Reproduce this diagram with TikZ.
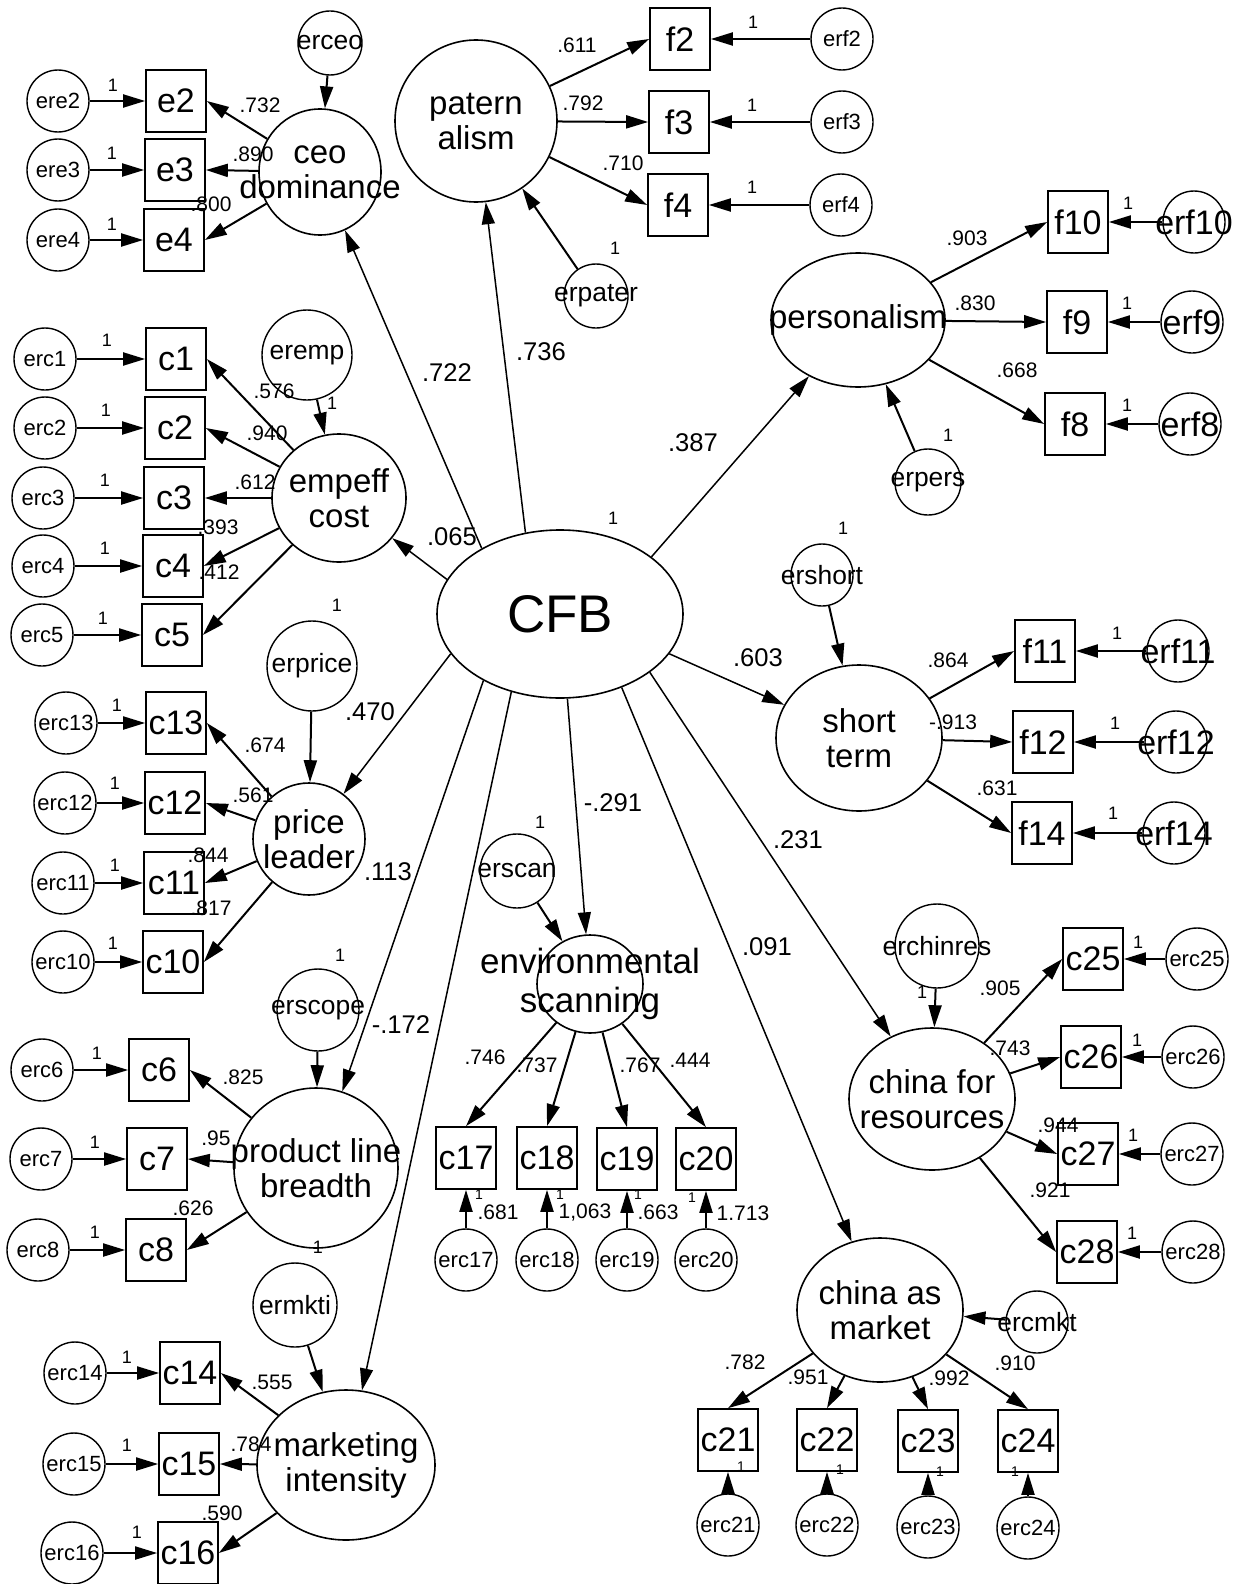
\documentclass[tikz,border=0pt]{standalone}
\usepackage{fontspec}
\setmainfont{Liberation Sans}
\usetikzlibrary{shapes.geometric,arrows.meta}
\begin{document}
\begin{tikzpicture}[x=0.5pt,y=-0.5pt,
  ob/.style={draw,line width=0.85pt,rectangle,minimum width=30pt,minimum height=31pt,inner sep=0pt,font=\fontsize{17}{17}\selectfont},
  es/.style={draw,circle,line width=0.7pt,inner sep=0pt,minimum size=31pt,label={[font=\fontsize{11}{11}\selectfont,inner sep=0pt]center:#1}},
  el/.style={draw,circle,line width=0.7pt,inner sep=0pt,minimum size=31pt,label={[font=\fontsize{17}{17}\selectfont,inner sep=0pt]center:#1}},
  em/.style 2 args={draw,circle,line width=0.7pt,inner sep=0pt,minimum size=#2,label={[font=\fontsize{13.2}{13.2}\selectfont,inner sep=0pt]center:#1}},
  lt/.style={align=center,font=\fontsize{16.5}{17.5}\selectfont,inner sep=0pt},
  lat/.style n args={3}{draw,ellipse,line width=0.8pt,inner sep=0pt,minimum width=#2,minimum height=#3,label={[lt]center:#1}},
  ld/.style={-{Triangle[length=11pt,width=6.5pt]},line width=1pt},
  st/.style={-{Triangle[length=11pt,width=6.5pt]},line width=0.75pt},
  num/.style={font=\fontsize{10.5}{10.5}\selectfont,inner sep=0pt},
  bnum/.style={font=\fontsize{12.8}{12.8}\selectfont,inner sep=0pt},
  one/.style={font=\fontsize{9}{9}\selectfont,inner sep=0pt},
  tiny1/.style={font=\fontsize{7}{7}\selectfont,inner sep=0pt},
]
\fill[white] (0,0) rectangle (1247,1584);
\useasboundingbox (0,0) rectangle (1247,1584);

% ---------- latent variables ----------
\node[draw,ellipse,line width=0.8pt,inner sep=0pt,minimum width=123pt,minimum height=84pt,
  label={[font=\fontsize{26.5}{26.5}\selectfont,inner sep=0pt]center:CFB}] (CFB) at (560,614) {};
\node[lat={ceo\\dominance}{61pt}{63pt}] (ceo) at (320,172) {};
\node[lat={patern\\alism}{81pt}{81pt}] (pat) at (476,121) {};
\node[lat={personalism}{87pt}{67pt}] (pers) at (858,320) {};
\node[lat={empeff\\cost}{67pt}{64pt}] (emp) at (339,498) {};
\node[lat={price\\leader}{56pt}{56pt}] (price) at (309,839) {};
\node[lat={product line\\breadth}{82pt}{80pt}] (prod) at (316,1168) {};
\node[lat={marketing\\intensity}{89pt}{75pt}] (mkt) at (346,1465) {};
\node[draw,ellipse,line width=0.8pt,inner sep=0pt,minimum width=53pt,minimum height=49pt,
  label={[lt,font=\fontsize{17.5}{19.5}\selectfont]center:environmental\\scanning}] (env) at (590,984) {};
\node[lat={short\\term}{83pt}{73pt}] (short) at (859,738) {};
\node[lat={china for\\resources}{83pt}{71pt}] (chres) at (932,1099) {};
\node[lat={china as\\market}{83pt}{72pt}] (chmkt) at (880,1310) {};

% ---------- structural errors ----------
\node[em={erceo}{32pt}] (erceo) at (330,43) {};
\node[em={erpater}{32pt}] (erpater) at (596,296) {};
\node[em={erpers}{33pt}] (erpers) at (928,482) {};
\node[em={eremp}{45pt}] (eremp) at (307,355) {};
\node[em={erprice}{45pt}] (erprice) at (312,666) {};
\node[em={erscope}{41pt}] (erscope) at (318,1010) {};
\node[em={ermkti}{42pt}] (ermkti) at (295,1305) {};
\node[em={erscan}{37pt}] (erscan) at (517,871) {};
\node[em={ershort}{31pt}] (ershort) at (822,575) {};
\node[em={erchinres}{42pt}] (erchinres) at (937,946) {};
\node[em={ercmkt}{31pt}] (ercmkt) at (1037,1322) {};

% ---------- indicators ----------
\node[ob] (e2) at (176,101) {e2};
\node[ob] (e3) at (175,170) {e3};
\node[ob] (e4) at (174,240) {e4};
\node[ob] (f2) at (680,39) {f2};
\node[ob] (f3) at (679,122) {f3};
\node[ob] (f4) at (678,205) {f4};
\node[ob] (f10) at (1078,222) {f10};
\node[ob] (f9) at (1077,322) {f9};
\node[ob] (f8) at (1075,424) {f8};
\node[ob] (c1) at (176,359) {c1};
\node[ob] (c2) at (175,428) {c2};
\node[ob] (c3) at (174,498) {c3};
\node[ob] (c4) at (173,566) {c4};
\node[ob] (c5) at (172,635) {c5};
\node[ob] (c13) at (176,723) {c13};
\node[ob] (c12) at (175,803) {c12};
\node[ob] (c11) at (174,883) {c11};
\node[ob] (c10) at (173,962) {c10};
\node[ob] (c6) at (159,1070) {c6};
\node[ob] (c7) at (157,1159) {c7};
\node[ob] (c8) at (156,1250) {c8};
\node[ob] (c14) at (190,1373) {c14};
\node[ob] (c15) at (189,1464) {c15};
\node[ob] (c16) at (188,1553) {c16};
\node[ob] (c17) at (466,1158) {c17};
\node[ob] (c18) at (547,1158) {c18};
\node[ob] (c19) at (627,1159) {c19};
\node[ob] (c20) at (706,1159) {c20};
\node[ob] (f11) at (1045,651) {f11};
\node[ob] (f12) at (1043,742) {f12};
\node[ob] (f14) at (1042,833) {f14};
\node[ob] (c25) at (1093,959) {c25};
\node[ob] (c26) at (1091,1057) {c26};
\node[ob] (c27) at (1088,1154) {c27};
\node[ob] (c28) at (1087,1252) {c28};
\node[ob] (c21) at (728,1440) {c21};
\node[ob] (c22) at (827,1440) {c22};
\node[ob] (c23) at (928,1441) {c23};
\node[ob] (c24) at (1028,1441) {c24};

% ---------- measurement errors ----------
\node[es=ere2] (ere2) at (58,101) {};
\node[es=ere3] (ere3) at (58,170) {};
\node[es=ere4] (ere4) at (58,240) {};
\node[es=erf2] (erf2) at (842,39) {};
\node[es=erf3] (erf3) at (842,122) {};
\node[es=erf4] (erf4) at (841,205) {};
\node[el=erf10] (erf10) at (1194,222) {};
\node[el=erf9] (erf9) at (1192,322) {};
\node[el=erf8] (erf8) at (1190,424) {};
\node[es=erc1] (erc1) at (45,359) {};
\node[es=erc2] (erc2) at (45,428) {};
\node[es=erc3] (erc3) at (43,498) {};
\node[es=erc4] (erc4) at (43,566) {};
\node[es=erc5] (erc5) at (42,635) {};
\node[es=erc13] (erc13) at (66,723) {};
\node[es=erc12] (erc12) at (65,803) {};
\node[es=erc11] (erc11) at (63,883) {};
\node[es=erc10] (erc10) at (63,962) {};
\node[es=erc6] (erc6) at (42,1070) {};
\node[es=erc7] (erc7) at (41,1159) {};
\node[es=erc8] (erc8) at (38,1250) {};
\node[es=erc14] (erc14) at (75,1373) {};
\node[es=erc15] (erc15) at (74,1464) {};
\node[es=erc16] (erc16) at (72,1553) {};
\node[es=erc17] (erc17) at (466,1260) {};
\node[es=erc18] (erc18) at (547,1260) {};
\node[es=erc19] (erc19) at (627,1260) {};
\node[es=erc20] (erc20) at (706,1260) {};
\node[el=erf11] (erf11) at (1178,651) {};
\node[el=erf12] (erf12) at (1176,742) {};
\node[el=erf14] (erf14) at (1174,833) {};
\node[es=erc25] (erc25) at (1197,959) {};
\node[es=erc26] (erc26) at (1193,1057) {};
\node[es=erc27] (erc27) at (1192,1154) {};
\node[es=erc28] (erc28) at (1193,1252) {};
\node[es=erc21] (erc21) at (728,1525) {};
\node[es=erc22] (erc22) at (827,1525) {};
\node[es=erc23] (erc23) at (928,1527) {};
\node[es=erc24] (erc24) at (1028,1528) {};

% ---------- structural paths from CFB ----------
\draw[st] (CFB.140.5) -- (ceo);
\draw[st] (CFB.113.8) -- (pat);
\draw[st] (CFB.32.5) -- (pers);
\draw[st] (CFB.163) -- (emp);
\draw[st] (CFB.200) -- (price);
\draw[st] (CFB.221.4) -- (prod);
\draw[st] (CFB.238.9) -- (mkt);
\draw[st] (CFB.275.5) -- (env);
\draw[st] (CFB.310.2) -- (chmkt);
\draw[st] (CFB.327.5) -- (chres);
\draw[st] (CFB.340) -- (short);

% ---------- disturbances ----------
\draw[ld] (erceo) -- (ceo);
\draw[ld] (erpater) -- (pat);
\draw[ld] (erpers) -- (pers);
\draw[ld] (eremp) -- (emp);
\draw[ld] (erprice) -- (price);
\draw[ld] (erscope) -- (prod);
\draw[ld] (ermkti) -- (mkt);
\draw[ld] (erscan) -- (env);
\draw[ld] (ershort) -- (short);
\draw[ld] (erchinres) -- (chres);
\draw[ld] (ercmkt) -- (chmkt);

% ---------- loadings ----------
\foreach \b in {e2,e3,e4} \draw[ld] (ceo) -- (\b.east);
\foreach \b in {f2,f3,f4} \draw[ld] (pat) -- (\b.west);
\foreach \b in {f10,f9,f8} \draw[ld] (pers) -- (\b.west);
\foreach \b in {c1,c2,c3,c4,c5} \draw[ld] (emp) -- (\b.east);
\foreach \b in {c13,c12,c11,c10} \draw[ld] (price) -- (\b.east);
\foreach \b in {c6,c7,c8} \draw[ld] (prod) -- (\b.east);
\foreach \b in {c14,c15,c16} \draw[ld] (mkt) -- (\b.east);
\foreach \b in {c17,c18,c19,c20} \draw[ld] (env) -- (\b.north);
\foreach \b in {f11,f12,f14} \draw[ld] (short) -- (\b.west);
\foreach \b in {c25,c26,c27,c28} \draw[ld] (chres) -- (\b.west);
\foreach \b in {c21,c22,c23,c24} \draw[ld] (chmkt) -- (\b.north);

% ---------- error arrows ----------
\foreach \a/\b in {ere2/e2,ere3/e3,ere4/e4,erf2/f2,erf3/f3,erf4/f4,erf10/f10,erf9/f9,erf8/f8,
  erc1/c1,erc2/c2,erc3/c3,erc4/c4,erc5/c5,erc13/c13,erc12/c12,erc11/c11,erc10/c10,
  erc6/c6,erc7/c7,erc8/c8,erc14/c14,erc15/c15,erc16/c16,erc17/c17,erc18/c18,erc19/c19,erc20/c20,
  erf11/f11,erf12/f12,erf14/f14,erc25/c25,erc26/c26,erc27/c27,erc28/c28,
  erc21/c21,erc22/c22,erc23/c23,erc24/c24}
  \draw[ld] (\a) -- (\b);

% ---------- structural coefficients ----------
\node[bnum] (s1) at (447,373) {.722};
\node[bnum] (s2) at (541,352) {.736};
\node[bnum] (s3) at (693,443) {.387};
\node[bnum] (s4) at (452,537) {.065};
\node[bnum] (s5) at (370,712) {.470};
\node[bnum] (s6) at (388,872) {.113};
\node[bnum] (s7) at (401,1025) {-.172};
\node[bnum] (s8) at (613,803) {-.291};
\node[bnum] (s9) at (758,658) {.603};
\node[bnum] (s10) at (798,840) {.231};
\node[bnum] (s11) at (767,947) {.091};

% ---------- loading values ----------
\node[num] (v1) at (260,105) {.732};
\node[num] (v2) at (253,154) {.890};
\node[num] (v3) at (211,204) {.800};
\node[num] (v4) at (577,45) {.611};
\node[num] (v5) at (583,103) {.792};
\node[num] (v6) at (623,163) {.710};
\node[num] (v7) at (967,238) {.903};
\node[num] (v8) at (975,303) {.830};
\node[num] (v9) at (1017,370) {.668};
\node[num] (v10) at (274,391) {.576};
\node[num] (v11) at (267,433) {.940};
\node[num] (v12) at (255,482) {.612};
\node[num] (v13) at (218,527) {.393};
\node[num] (v14) at (219,572) {.412};
\node[num] (v15) at (265,745) {.674};
\node[num] (v16) at (253,795) {.561};
\node[num] (v17) at (208,855) {.844};
\node[num] (v18) at (211,908) {.817};
\node[num] (v19) at (243,1077) {.825};
\node[num] (v20) at (216,1138) {.95};
\node[num] (v21) at (193,1208) {.626};
\node[num] (v22) at (272,1382) {.555};
\node[num] (v23) at (251,1444) {.784};
\node[num] (v24) at (222,1513) {.590};
\node[num] (v25) at (485,1057) {.746};
\node[num] (v26) at (537,1065) {.737};
\node[num] (v27) at (640,1065) {.767};
\node[num] (v28) at (690,1060) {.444};
\node[num] (v29) at (498,1212) {.681};
\node[num] (v30) at (585,1212) {1,063};
\node[num] (v31) at (658,1212) {.663};
\node[num] (v32) at (743,1213) {1.713};
\node[num] (v33) at (948,660) {.864};
\node[num] (v34) at (953,722) {-.913};
\node[num] (v35) at (997,788) {.631};
\node[num] (v36) at (1000,988) {.905};
\node[num] (v37) at (1010,1048) {.743};
\node[num] (v38) at (1058,1125) {.944};
\node[num] (v39) at (1050,1190) {.921};
\node[num] (v40) at (745,1362) {.782};
\node[num] (v41) at (808,1377) {.951};
\node[num] (v42) at (949,1378) {.992};
\node[num] (v43) at (1015,1363) {.910};

% ---------- fixed "1" weights ----------
\foreach \p [count=\i] in {(113,85),(112,153),(112,224),(753,22),(752,105),(752,187),
  (1128,203),(1127,303),(1127,405),(107,340),(106,410),(105,480),(105,548),(103,618),
  (117,705),(115,783),(115,865),(113,943),(97,1053),(95,1142),(95,1232),
  (127,1357),(127,1445),(137,1532),(1117,633),(1115,723),(1113,813),
  (1138,942),(1137,1040),(1133,1135),(1132,1233),
  (615,248),(948,435),(332,403),(337,605),(340,955),(318,1247),(540,822),(843,528),(922,992),(613,518)}
  \node[one] (w\i) at \p {1};
\foreach \p [count=\i] in {(479,1195),(560,1195),(638,1195),(692,1198),(741,1467),(840,1470),(940,1472),(1015,1472)}
  \node[tiny1] (u\i) at \p {1};
\end{tikzpicture}
\end{document}
